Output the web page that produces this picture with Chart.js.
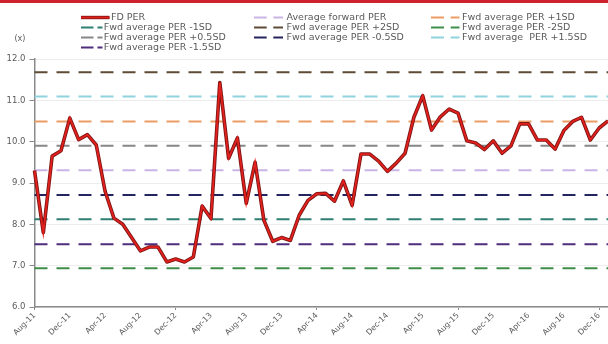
<!DOCTYPE html>
<html>
<head>
<meta charset="utf-8">
<script src="https://cdn.jsdelivr.net/npm/chart.js@4/dist/chart.umd.min.js"></script>
<style>
  html, body { margin: 0; padding: 0; background: #fff; }
  #wrap { position: relative; width: 608px; height: 344px; overflow: hidden; background: #fff; }
  #topbar { position: absolute; left: 0; top: 0; width: 608px; height: 3px; background: #d0222e; }
  #c { position: absolute; left: 0; top: 0; }
</style>
</head>
<body>
<div id="wrap">
  <canvas id="c" width="608" height="344"></canvas>
  <div id="topbar"></div>
</div>
<script>
// Monthly categories
const months = [
  'Aug-11','Sep-11','Oct-11','Nov-11','Dec-11',
  'Jan-12','Feb-12','Mar-12','Apr-12','May-12','Jun-12','Jul-12','Aug-12','Sep-12','Oct-12','Nov-12','Dec-12',
  'Jan-13','Feb-13','Mar-13','Apr-13','May-13','Jun-13','Jul-13','Aug-13','Sep-13','Oct-13','Nov-13','Dec-13',
  'Jan-14','Feb-14','Mar-14','Apr-14','May-14','Jun-14','Jul-14','Aug-14','Sep-14','Oct-14','Nov-14','Dec-14',
  'Jan-15','Feb-15','Mar-15','Apr-15','May-15','Jun-15','Jul-15','Aug-15','Sep-15','Oct-15','Nov-15','Dec-15',
  'Jan-16','Feb-16','Mar-16','Apr-16','May-16','Jun-16','Jul-16','Aug-16','Sep-16','Oct-16','Nov-16','Dec-16',
  'Jan-17'
];

// 12-month forward PER (x)
const fdPer = [
  9.30, 7.80, 9.65, 9.78, 10.57,
  10.05, 10.17, 9.92, 8.80, 8.15, 8.00, 7.68, 7.36, 7.45, 7.45, 7.09, 7.16,
  7.09, 7.21, 8.44, 8.14, 11.43, 9.60, 10.09, 8.51, 9.50, 8.10, 7.59, 7.68,
  7.61, 8.22, 8.58, 8.74, 8.75, 8.56, 9.05, 8.46, 9.70, 9.70, 9.53, 9.28,
  9.48, 9.72, 10.59, 11.11, 10.28, 10.60, 10.79, 10.69, 10.02, 9.97, 9.81, 10.02,
  9.72, 9.90, 10.43, 10.43, 10.04, 10.04, 9.82, 10.27, 10.49, 10.59, 10.04, 10.33,
  10.50
];

// Average and standard-deviation bands
const bandNames = [
  'Average forward PER',
  'Fwd average PER +1SD',
  'Fwd average PER -1SD',
  'Fwd average PER +2SD',
  'Fwd average PER -2SD',
  'Fwd average PER +0.5SD',
  'Fwd average PER -0.5SD',
  'Fwd average  PER +1.5SD',
  'Fwd average PER -1.5SD'
];
const bandLevels = [9.31, 10.49, 8.12, 11.68, 6.94, 9.90, 8.71, 11.09, 7.52];
const bandColors = ['#c9b5e5', '#eb9b64', '#2f7f72', '#5e4b35', '#3f8f4a', '#878787', '#24245f', '#8fd3dd', '#4f2d7e'];

// Y ticks
const yMin = 6, yMax = 12, yStep = 1;

const datasets = [{
  label: 'FD PER',
  data: fdPer,
  borderColor: '#e3201c',
  borderWidth: 1.8,
  pointRadius: 0,
  tension: 0,
  fill: false
}].concat(bandNames.map((name, i) => ({
  label: name,
  data: months.map(() => bandLevels[i]),
  borderColor: bandColors[i],
  borderWidth: 2,
  borderDash: [13, 9],
  pointRadius: 0,
  tension: 0,
  fill: false
})));

// Dark edge under the FD PER line, traced through the dataset's own points
const lineEdge = {
  id: 'lineEdge',
  beforeDatasetDraw(chart, args) {
    if (args.index !== 0) return;
    const pts = args.meta.data;
    const c = chart.ctx;
    c.save();
    c.beginPath();
    pts.forEach((p, i) => (i ? c.lineTo(p.x, p.y) : c.moveTo(p.x, p.y)));
    c.lineJoin = 'round';
    c.lineWidth = 3.6;
    c.strokeStyle = '#7e1515';
    c.stroke();
    c.restore();
  }
};

// Three-column legend and unit label
const gridLegend = {
  id: 'gridLegend',
  afterDraw(chart) {
    const ctx = chart.ctx;
    const cols = [
      { sx: 81, d1: 12.5, gap: 4, end: 102.5, tx: 103.8 },
      { sx: 254, d1: 12.7, gap: 6.6, end: 283, tx: 286.5 },
      { sx: 431, d1: 13, gap: 6.7, end: 459.5, tx: 462 }
    ];
    const rows = [17.5, 27.5, 37.5, 47.5];
    ctx.save();
    ctx.font = '9.5px "DejaVu Sans", sans-serif';
    ctx.textBaseline = 'middle';
    ctx.textAlign = 'left';
    chart.data.datasets.forEach((ds, i) => {
      const col = cols[i % 3];
      const y = rows[Math.floor(i / 3)];
      ctx.lineCap = 'butt';
      let tx = col.tx;
      if (!ds.borderDash) {
        ctx.beginPath();
        ctx.moveTo(col.sx, y);
        ctx.lineTo(col.sx + 28.5, y);
        ctx.lineWidth = 3.4;
        ctx.strokeStyle = '#7e1515';
        ctx.stroke();
        ctx.lineWidth = 1.8;
        ctx.strokeStyle = ds.borderColor;
        ctx.stroke();
        tx = col.sx + 30;
      } else {
        ctx.strokeStyle = ds.borderColor;
        ctx.lineWidth = 2;
        ctx.beginPath();
        ctx.moveTo(col.sx, y);
        ctx.lineTo(col.sx + col.d1, y);
        ctx.moveTo(col.sx + col.d1 + col.gap, y);
        ctx.lineTo(col.end, y);
        ctx.stroke();
      }
      ctx.fillStyle = '#5a5a5a';
      ctx.fillText(ds.label, tx, y + 0.5);
    });
    ctx.font = '8px "DejaVu Sans", sans-serif';
    ctx.fillStyle = '#5a5a5a';
    ctx.fillText('(x)', 14.5, 39);
    ctx.restore();
  }
};

const tickColor = (c) => (c.index % 4 === 0 ? '#8a8a8a' : 'rgba(0,0,0,0)');

new Chart(document.getElementById('c'), {
  type: 'line',
  data: { labels: months, datasets },
  plugins: [lineEdge, gridLegend],
  options: {
    responsive: false,
    animation: false,
    devicePixelRatio: 1,
    layout: { padding: { top: 59, left: 0, right: 0, bottom: 0 } },
    plugins: { legend: { display: false }, tooltip: { enabled: false } },
    scales: {
      x: {
        type: 'category',
        offset: false,
        ticks: {
          autoSkip: false,
          maxRotation: 45,
          minRotation: 45,
          padding: 1,
          color: '#5a5a5a',
          font: { family: 'DejaVu Sans', size: 7.8 },
          callback(v, i) { return i % 4 === 0 ? this.getLabelForValue(v) : null; }
        },
        grid: { drawOnChartArea: false, color: tickColor, tickColor: tickColor, tickLength: 3, lineWidth: 1 },
        border: { color: '#8a8a8a', width: 1.5 },
        afterFit(s) { s.height = 37; s.paddingLeft = 0; s.paddingRight = 0; }
      },
      y: {
        min: yMin,
        max: yMax,
        ticks: {
          stepSize: yStep,
          padding: 4,
          color: '#5a5a5a',
          font: { family: 'DejaVu Sans', size: 8.5 },
          callback: (v) => Number(v).toFixed(1)
        },
        grid: { color: '#ededed', tickColor: '#8a8a8a', tickLength: 5, lineWidth: 1 },
        border: { color: '#8a8a8a', width: 1.5 },
        afterFit(s) { s.width = 34.5; }
      }
    }
  }
});
</script>
</body>
</html>
